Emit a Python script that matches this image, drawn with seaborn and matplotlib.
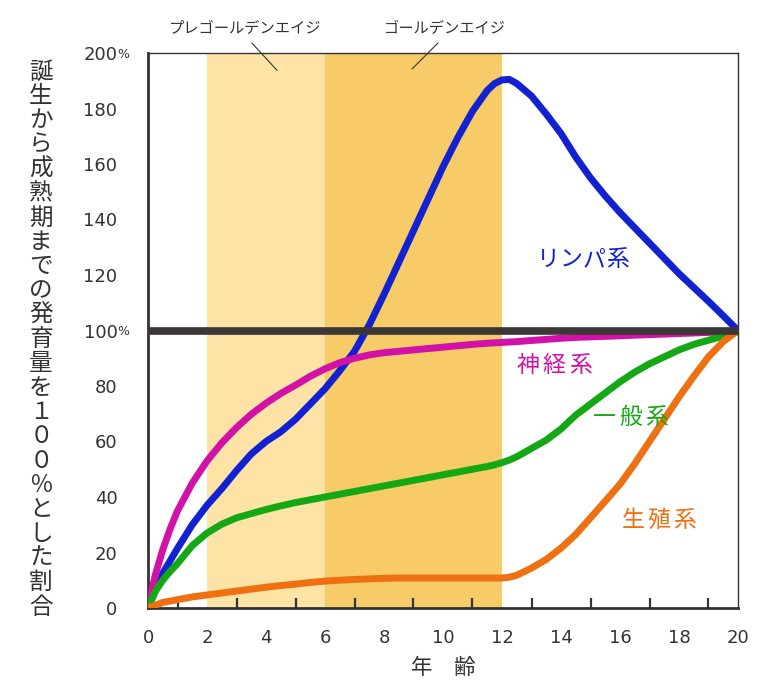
import matplotlib
matplotlib.use("Agg")
import pandas as pd
import matplotlib.pyplot as plt
import seaborn as sns

# Scammon growth curves (% of adult size)
ages = [0, 0.25, 0.5, 0.75, 1, 1.5, 2, 2.5, 3, 3.5, 4, 4.5, 5, 5.5, 6, 6.5, 7,
        7.5, 8, 8.5, 9, 9.5, 10, 10.5, 11, 11.5, 11.75, 12, 12.25, 12.5, 13,
        13.5, 14, 14.5, 15, 15.5, 16, 16.5, 17, 17.5, 18, 18.5, 19, 19.5, 20]
lymph = [0, 6.5, 12.5, 17, 21.5, 30, 37, 43, 49.5, 55.5, 60, 63.5, 68, 73.5,
         79, 85.5, 92.5, 102, 113, 124.5, 136, 147.5, 159, 169.5, 179, 186.5,
         189, 190.3, 190.5, 189, 184.5, 178, 171, 162.5, 155, 148.5, 142.5,
         137, 131.5, 126, 120.5, 115.5, 110.5, 105.3, 100]
neural = [0, 12, 21, 28.5, 35, 45, 53, 59.5, 65, 69.8, 73.8, 77.3, 80.3, 83.5,
          86.2, 88.4, 90, 91.2, 92, 92.5, 93, 93.5, 94, 94.5, 95, 95.4, 95.55,
          95.7, 95.85, 96, 96.4, 96.8, 97.2, 97.5, 97.7, 97.9, 98.1, 98.3, 98.5,
          98.7, 98.9, 99.1, 99.3, 99.6, 100]
general = [0, 6, 10, 13.2, 16, 22.5, 27, 30.2, 32.5, 34, 35.5, 36.8, 38, 39,
           40, 41, 42, 43, 44, 45, 46, 47, 48, 49, 50, 51, 51.6, 52.4, 53.3,
           54.5, 57.5, 60.5, 64.5, 69.5, 73.5, 77.5, 81.5, 85, 88, 90.5, 93, 95,
           96.5, 98, 99.5]
reproductive = [0, 1, 2, 2.5, 3, 4, 4.7, 5.4, 6.1, 6.8, 7.5, 8.1, 8.6, 9.2,
                9.7, 10, 10.3, 10.5, 10.7, 10.8, 10.8, 10.8, 10.8, 10.8, 10.8,
                10.8, 10.8, 10.8, 11.1, 11.8, 14.4, 17.5, 21.6, 26.5, 32.5, 38.5,
                44.6, 52, 60, 68, 76, 83.5, 90.5, 96, 100]

system_names = ["リンパ系", "神経系", "一般系", "生殖系"]
system_colors = ["#1222d2", "#d212a6", "#14a814", "#ee7010"]
label_pos = [(13.2, 125.5), (12.5, 87.5), (15.1, 68.5), (16.05, 31.5)]
label_step = [16.4, 18.7, 18.7, 18.7]  # character advance in points

x_ticks = list(range(0, 21, 2))
x_minor = list(range(1, 20, 2))
y_ticks = list(range(0, 201, 20))
y_labels = ["0", "20", "40", "60", "80", "100", "120", "140", "160", "180", "200"]

bands = [(2, 6), (6, 12)]
band_colors = ["#fde3a6", "#f6cb68"]
band_names = ["プレゴールデンエイジ", "ゴールデンエイジ"]

ylabel_text = "誕生から成熟期までの発育量を１００％とした割合"

df = pd.DataFrame({
    "age": ages * 4,
    "value": lymph + neural + general + reproductive,
    "system": [n for n in system_names for _ in ages],
})

sns.set_theme(style="white")
plt.rcParams["font.family"] = ["Noto Sans CJK JP", "DejaVu Sans"]
ink = "#333333"

fig = plt.figure(figsize=(7.69, 6.92), dpi=100)
ax = fig.add_axes([148 / 769, 1 - 608 / 692, 590 / 769, 555 / 692])

for (a, b), c in zip(bands, band_colors):
    ax.axvspan(a, b, color=c, lw=0, zorder=0)

sns.lineplot(data=df, x="age", y="value", hue="system",
             palette=dict(zip(system_names, system_colors)),
             linewidth=5, legend=False, ax=ax, sort=False,
             solid_capstyle="round", solid_joinstyle="round", zorder=3)

ax.axhline(100, color="#3b3735", lw=5.5, zorder=4)

ax.set_xlim(0, 20)
ax.set_ylim(0, 200)
ax.set_xticks(x_ticks)
ax.set_xticks(x_minor, minor=True)
ax.set_yticks(y_ticks)
ax.set_yticklabels(y_labels)
ax.tick_params(axis="x", which="major", direction="in", length=14, width=1.6,
               color=ink, labelsize=13, labelcolor=ink, pad=15)
ax.tick_params(axis="x", which="minor", direction="in", length=7, width=1.6,
               color=ink, bottom=True)
ax.tick_params(axis="y", direction="in", length=14, width=1.6, color=ink,
               labelsize=13, labelcolor=ink, pad=22)
for lab in ax.get_xticklabels() + ax.get_yticklabels():
    lab.set_family("DejaVu Sans")
ax.set_xlabel("年　齢", fontsize=15.5, color=ink, labelpad=7)
ax.set_ylabel("")

for side in ["left", "bottom"]:
    ax.spines[side].set_linewidth(2)
    ax.spines[side].set_color(ink)
for side in ["top", "right"]:
    ax.spines[side].set_linewidth(1)
    ax.spines[side].set_color(ink)

# small percent signs after 100 and 200
for v in (100, 200):
    ax.annotate("%", xy=(0, v), xycoords=("axes fraction", "data"),
                xytext=(-22.5, -1), textcoords="offset points",
                ha="left", va="center", fontsize=9, color=ink,
                family="DejaVu Sans", annotation_clip=False)

# series names, drawn character by character for the wide letter spacing
for name, color, (x, y), step in zip(system_names, system_colors, label_pos, label_step):
    for i, ch in enumerate(name):
        ax.annotate(ch, xy=(x, y), xytext=(i * step, 0), textcoords="offset points",
                    color=color, fontsize=16.5, ha="left", va="center", zorder=5)

# age band captions with leader lines
fig.text(245 / 769, 1 - 29 / 692, band_names[0], fontsize=11, color=ink,
         ha="center", va="center")
fig.text(445 / 769, 1 - 29 / 692, band_names[1], fontsize=11, color=ink,
         ha="center", va="center")
ax.annotate("", xy=(4.44, 193), xytext=(250, 692 - 41), textcoords="figure pixels",
            arrowprops=dict(arrowstyle="-", lw=0.8, color=ink),
            annotation_clip=False)
ax.annotate("", xy=(8.88, 193.5), xytext=(440, 692 - 41), textcoords="figure pixels",
            arrowprops=dict(arrowstyle="-", lw=0.8, color=ink),
            annotation_clip=False)

# vertical y-axis caption, one character per line
step = (607 - 72) / (len(ylabel_text) - 1)
for i, ch in enumerate(ylabel_text):
    fig.text(41 / 769, 1 - (72 + i * step) / 692, ch, fontsize=17,
             color=ink, ha="center", va="center")

fig.savefig("out.png", dpi=100)
